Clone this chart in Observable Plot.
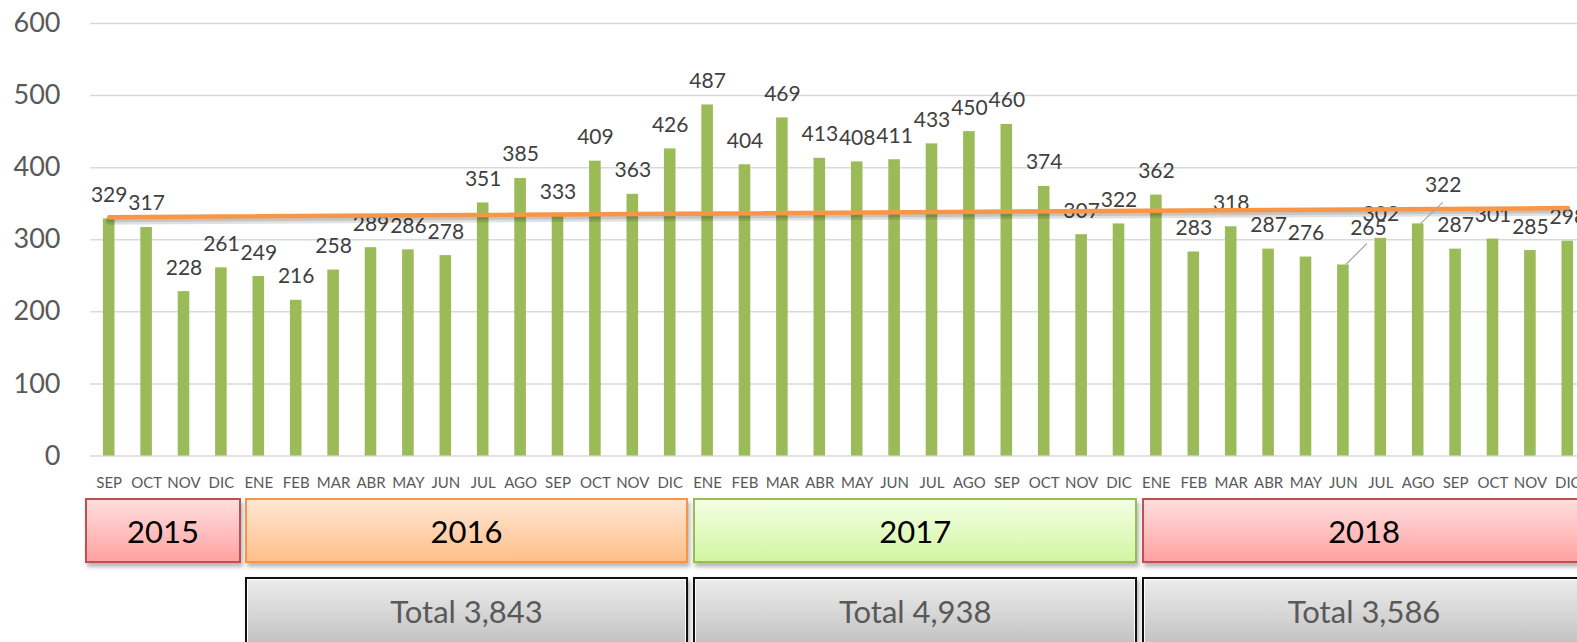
<!DOCTYPE html>
<html>
<head>
<meta charset="utf-8">
<script src="https://cdn.jsdelivr.net/npm/d3@7"></script>
<script src="https://cdn.jsdelivr.net/npm/@observablehq/plot@0.6"></script>
<style>
  html, body { margin: 0; padding: 0; background: #fff; overflow: hidden; }
  #wrap { position: relative; width: 1586px; height: 642px; font-family: Lato, "Open Sans", sans-serif; }
  .box { position: absolute; box-sizing: border-box; display: flex; align-items: center; justify-content: center; }
  .year { top: 498px; height: 65px; font-size: 31px; color: #000; border: 2px solid; box-shadow: 2px 4px 4px rgba(0,0,0,0.28); }
  .total { top: 577px; height: 68px; font-size: 31px; color: #595959; border: 2px solid #111;
           background: linear-gradient(#ececec, #c3c3c3); box-shadow: inset 0 0 0 1px #fff, 2px 3px 4px rgba(0,0,0,0.3); }
</style>
</head>
<body>
<div id="wrap"></div>
<script>
// ---- data ----
const monthLabels = [
  "SEP","OCT","NOV","DIC",
  "ENE","FEB","MAR","ABR","MAY","JUN","JUL","AGO","SEP","OCT","NOV","DIC",
  "ENE","FEB","MAR","ABR","MAY","JUN","JUL","AGO","SEP","OCT","NOV","DIC",
  "ENE","FEB","MAR","ABR","MAY","JUN","JUL","AGO","SEP","OCT","NOV","DIC"
];
const values = [
  329, 317, 228, 261,
  249, 216, 258, 289, 286, 278, 351, 385, 333, 409, 363, 426,
  487, 404, 469, 413, 408, 411, 433, 450, 460, 374, 307, 322,
  362, 283, 318, 287, 276, 265, 302, 322, 287, 301, 285, 298
];
const yearNames = ["2015", "2016", "2017", "2018"];
const monthsPerYear = [4, 12, 12, 12];
const yTicks = [0, 100, 200, 300, 400, 500, 600];

// ---- styling / label placement (not data) ----
const yearStyles = [
  {border: "#C0504D", bg: "linear-gradient(#FFDEDE, #FFA2A2)"},
  {border: "#F79646", bg: "linear-gradient(#FFE7D4, #FFBF88)"},
  {border: "#9BBB59", bg: "linear-gradient(#F3FFE4, #D3F5A2)"},
  {border: "#C0504D", bg: "linear-gradient(#FFDEDE, #FFA2A2)"}
];
const callouts = new Map([[33, {dx: 25, dy: -30, lx: 24, ly: -21}], [35, {dx: 25, dy: -32, lx: 25, ly: -21}]]);

const data = values.map((v, i) => ({i, month: monthLabels[i], value: v}));
const n = data.length;
const mx = d3.mean(data, d => d.i), my = d3.mean(data, d => d.value);
const slope = d3.sum(data, d => (d.i - mx) * (d.value - my)) / d3.sum(data, d => (d.i - mx) ** 2);
const icpt = my - slope * mx;
const trend = [0, n - 1].map(i => ({i, value: icpt + slope * i}));

const W = 1586, H = 500;
const labelStyle = {fill: "#404040", fontSize: 21, lineAnchor: "bottom"};

const marks = [
  Plot.ruleY(yTicks, {stroke: "#d9d9d9", strokeWidth: 1.5}),
  Plot.barY(data, {x: "i", y: "value", fill: "#9BBB59"}),
  Plot.text(data.filter(d => !callouts.has(d.i)), {x: "i", y: "value", text: d => String(d.value), dy: -17, ...labelStyle}),
  ...[...callouts].map(([k, c]) =>
    Plot.text(data.filter(d => d.i === k), {x: "i", y: "value", text: d => String(d.value), dx: c.dx, dy: c.dy, ...labelStyle})),
  Plot.line(trend, {x: "i", y: "value", stroke: "#000", strokeOpacity: 0.12, strokeWidth: 7, dy: 4}),
  Plot.line(trend, {x: "i", y: "value", stroke: "#000", strokeOpacity: 0.12, strokeWidth: 4, dy: 3}),
  Plot.line(trend, {x: "i", y: "value", stroke: "#F79646", strokeWidth: 4.5}),
  Plot.axisX({tickFormat: i => monthLabels[i], tickSize: 0, tickPadding: 21, fontSize: 15, color: "#595959", label: null}),
  Plot.axisY({ticks: yTicks, tickSize: 0, tickPadding: 30, fontSize: 27, color: "#595959", label: null})
];

const chart = Plot.plot({
  width: W, height: H,
  marginLeft: 90, marginRight: 0, marginTop: 23, marginBottom: 44.5,
  style: {fontFamily: "Lato, 'Open Sans', sans-serif", background: "transparent", overflow: "visible"},
  x: {type: "band", domain: d3.range(n), paddingInner: 0.69, paddingOuter: 0.345, round: false},
  y: {domain: [0, 600]},
  marks
});

const wrap = document.getElementById("wrap");
wrap.appendChild(chart);

const svg = d3.select(chart);
const xs = chart.scale("x"), ys = chart.scale("y");
const bw = xs.bandwidth;
const step = xs.apply(1) - xs.apply(0);
for (const [k, c] of callouts) {
  const cx = xs.apply(k) + bw / 2, top = ys.apply(values[k]);
  svg.append("line")
    .attr("x1", cx + 3).attr("y1", top).attr("x2", cx + c.lx).attr("y2", top + c.ly)
    .attr("stroke", "#a6a6a6").attr("stroke-width", 1.2);
}

const catStart = i => xs.apply(i) + bw / 2 - step / 2;
let idx = 0;
yearNames.forEach((name, k) => {
  const s = idx, e = idx + monthsPerYear[k];
  idx = e;
  const left = catStart(s) + (k === 0 ? -5 : 5);
  const right = catStart(e - 1) + step + (k === 0 ? 1.5 : 0);
  const yb = document.createElement("div");
  yb.className = "box year";
  yb.style.left = left + "px";
  yb.style.width = (right - left) + "px";
  yb.style.borderColor = yearStyles[k].border;
  yb.style.background = yearStyles[k].bg;
  yb.textContent = name;
  wrap.appendChild(yb);
  if (monthsPerYear[k] === 12) {
    const tb = document.createElement("div");
    tb.className = "box total";
    tb.style.left = left + "px";
    tb.style.width = (right - left) + "px";
    tb.textContent = "Total " + d3.format(",")(d3.sum(values.slice(s, e)));
    wrap.appendChild(tb);
  }
});
</script>
</body>
</html>
